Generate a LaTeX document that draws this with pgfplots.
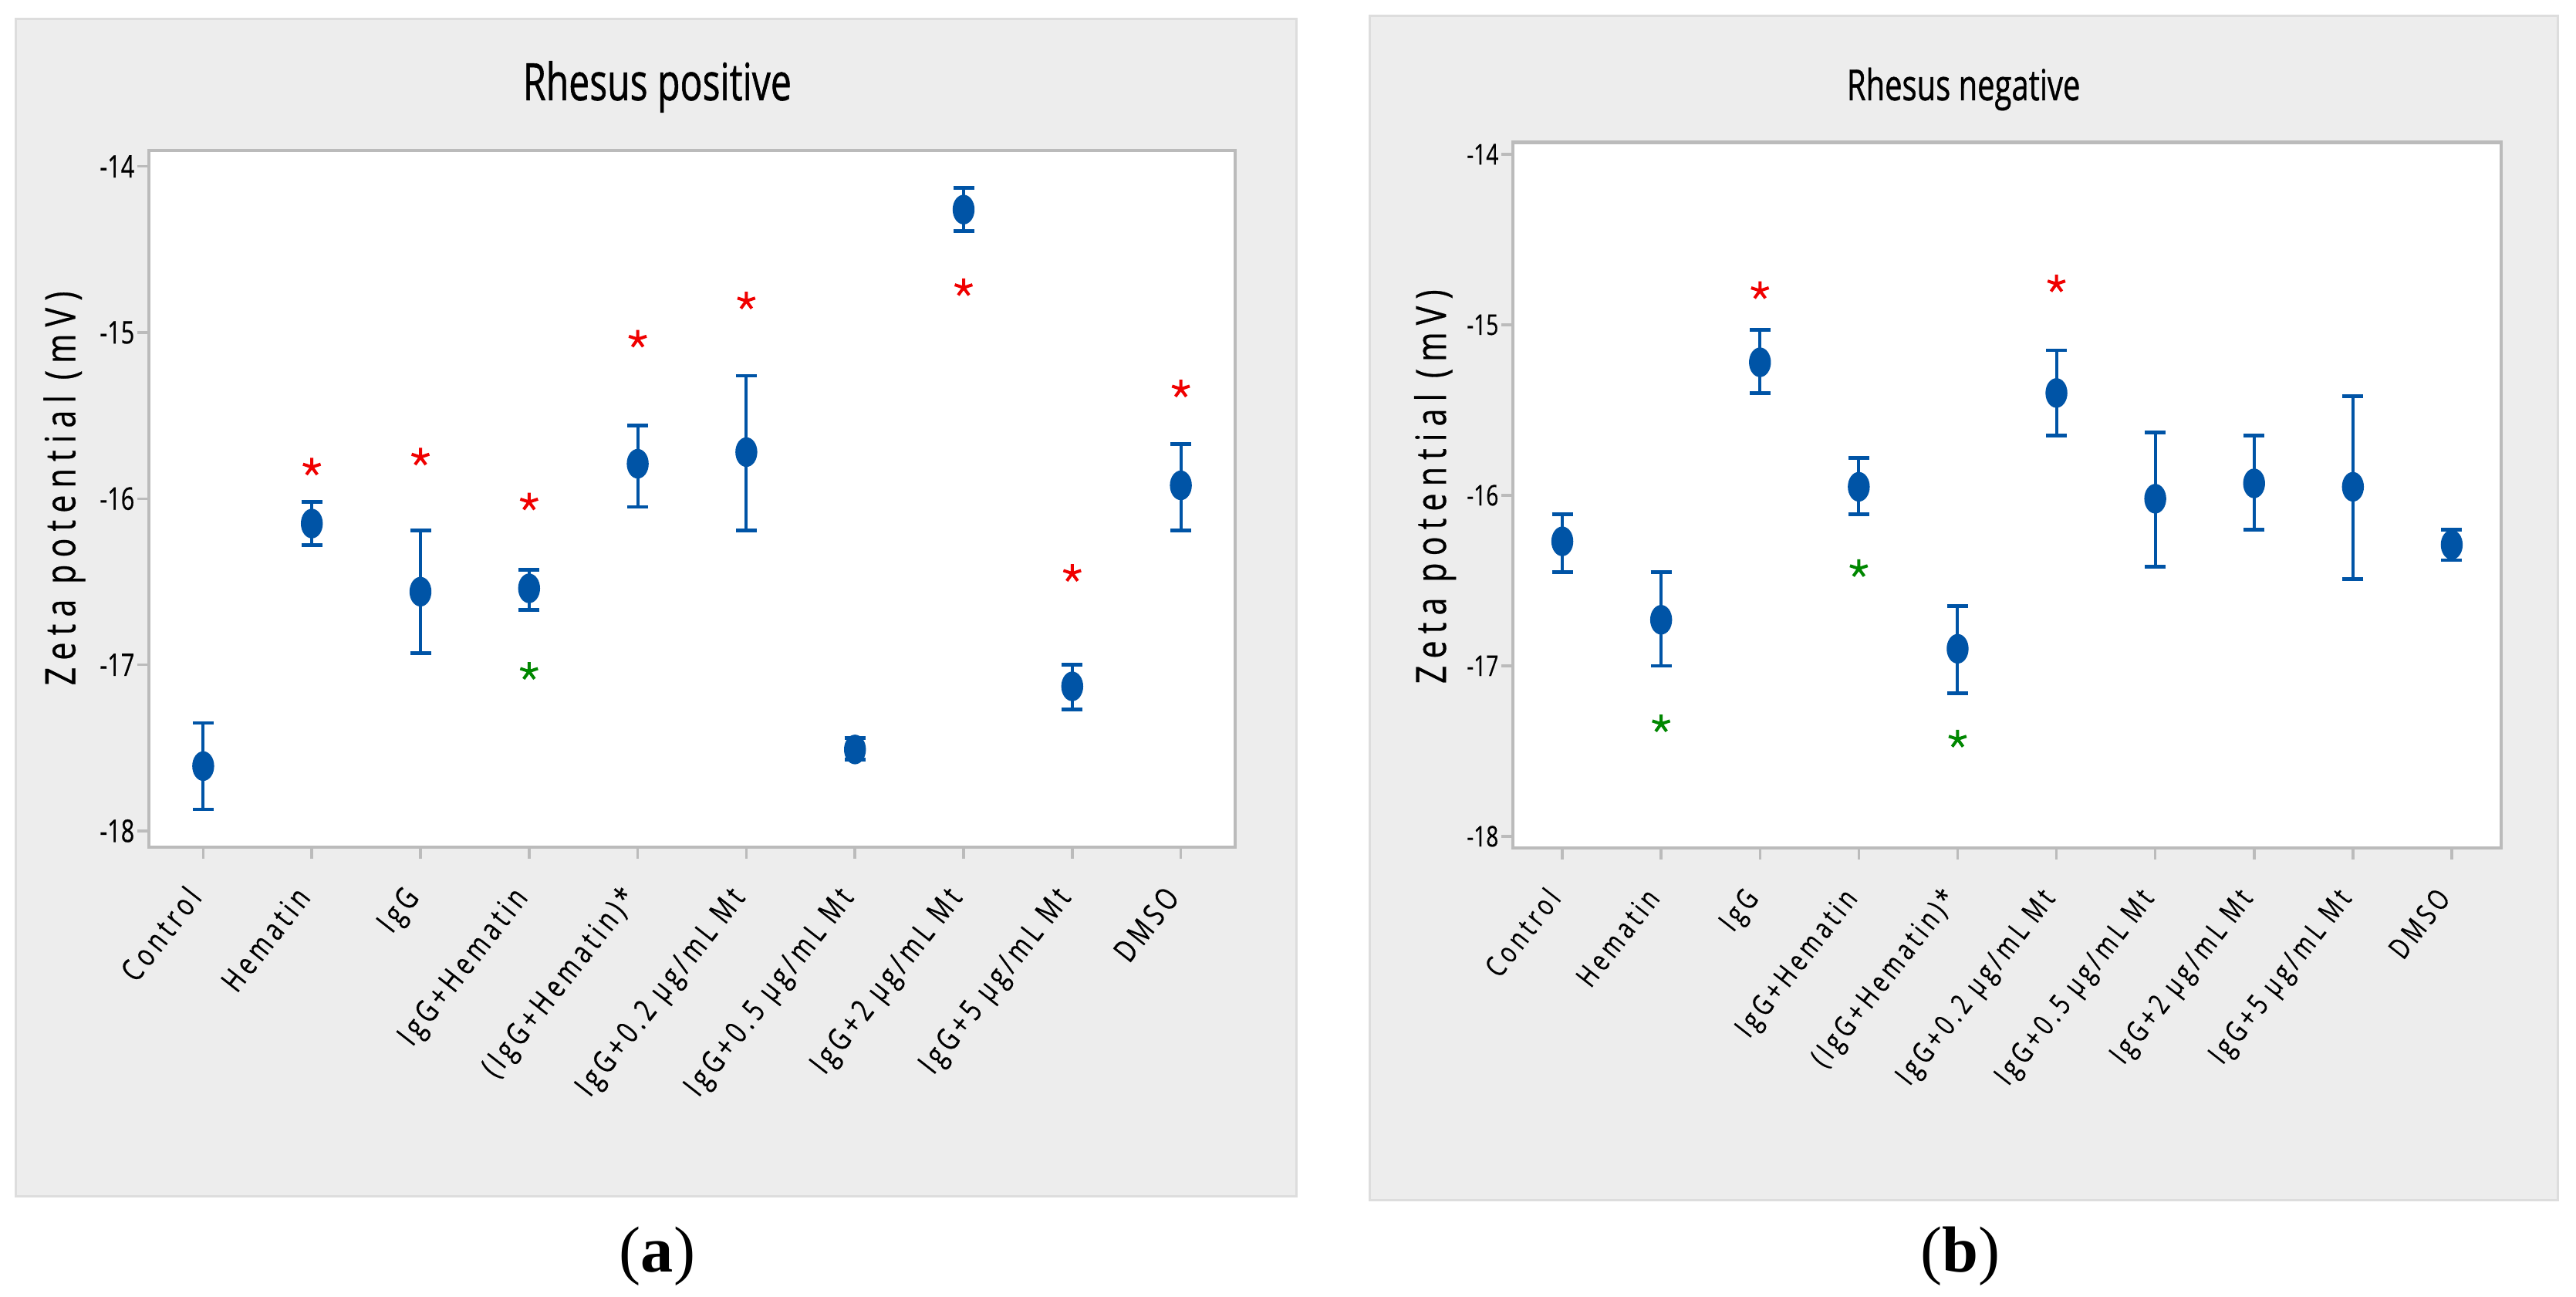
\documentclass[border=0pt]{standalone}
\usepackage{fontspec}
\usepackage{pgfplots}
\usepackage{pgfplotstable}
\pgfplotsset{compat=1.18}
\setmainfont{Open Sans}
\newfontfamily\condfont[FakeStretch=0.76,FakeBold=0.5]{Open Sans}
\newfontfamily\titlefont[FakeStretch=0.72,FakeBold=0.8]{Open Sans}
\newfontfamily\spacedfont[FakeStretch=0.76,FakeBold=0.4,LetterSpace=14]{Open Sans}
\newfontfamily\ylabfont[FakeStretch=0.76,FakeBold=0.5,LetterSpace=17]{Open Sans}
\newfontfamily\capfont{Liberation Serif}

\definecolor{zblue}{RGB}{0,84,166}
\definecolor{zred}{RGB}{240,0,0}
\definecolor{zgreen}{RGB}{0,135,0}
\definecolor{panel}{RGB}{237,237,237}
\definecolor{panelline}{RGB}{221,221,221}
\definecolor{framegray}{RGB}{187,187,187}

% mean, error up (ep), error down (em)
\pgfplotstableread{
x y ep em
0 -17.61 0.26 0.26
1 -16.15 0.13 0.13
2 -16.56 0.37 0.37
3 -16.54 0.11 0.13
4 -15.79 0.23 0.26
5 -15.72 0.46 0.47
6 -17.51 0.07 0.06
7 -14.26 0.13 0.13
8 -17.13 0.13 0.14
9 -15.92 0.25 0.27
}\posdata
\pgfplotstableread{
x y
1 -15.81
2 -15.75
3 -16.02
4 -15.04
5 -14.81
7 -14.73
8 -16.45
9 -15.34
}\posred
\pgfplotstableread{
x y
3 -17.04
}\posgreen

\pgfplotstableread{
x y ep em
0 -16.27 0.16 0.18
1 -16.73 0.28 0.27
2 -15.22 0.19 0.18
3 -15.95 0.17 0.16
4 -16.90 0.25 0.26
5 -15.40 0.25 0.25
6 -16.02 0.39 0.40
7 -15.93 0.28 0.27
8 -15.95 0.53 0.54
9 -16.29 0.09 0.09
}\negdata
\pgfplotstableread{
x y
2 -14.80
5 -14.76
}\negred
\pgfplotstableread{
x y
1 -17.34
3 -16.43
4 -17.43
}\neggreen

\pgfplotsset{
  zeta/.style={
    scale only axis, clip=false,
    xmin=-0.5, xmax=9.5,
    axis background/.style={fill=white},
    axis line style={draw=framegray, line width=0.45mm},
    tick align=outside, tick pos=left,
    major tick length=1.5mm,
    tick style={draw=framegray, line width=0.35mm},
    xtick={0,...,9},
    xticklabels={Control, Hematin, IgG, IgG+Hematin, (IgG+Hematin)*,
      IgG+0.2 µg/mL Mt, IgG+0.5 µg/mL Mt, IgG+2 µg/mL Mt, IgG+5 µg/mL Mt, DMSO},
    xticklabel style={inner sep=0pt, yshift=-5.1mm, rotate=52, anchor=base east},
    ytick={-18,-17,-16,-15,-14},
    yticklabels={-18,-17,-16,-15,-14},
    yticklabel style={inner sep=0pt, anchor=east, xshift=-0.3mm},
    ylabel={Zeta potential (mV)},
    ylabel style={font=\ylabfont\fontsize{15.4}{16}\selectfont, inner sep=0pt, anchor=center},
  },
  means/.style={only marks, mark=*, mark size=1.85mm,
    mark options={xscale=0.73, draw=zblue, fill=zblue},
    error bars/.cd, y dir=both, y explicit,
    error bar style={draw=zblue, line width=0.4mm},
    error mark options={rotate=90, draw=zblue, line width=0.47mm, mark size=1.35mm}},
  stars/.style={only marks, mark=star, mark size=1.2mm, mark options={line width=0.4mm, draw=#1}},
}

\begin{document}
\begin{tikzpicture}
\path[use as bounding box] (0,0) rectangle (333.9mm,168.1mm);
\filldraw[fill=panel, draw=panelline, line width=0.3mm] (2.0mm,13.0mm) rectangle (168.0mm,165.6mm);
\filldraw[fill=panel, draw=panelline, line width=0.3mm] (177.5mm,12.5mm) rectangle (331.5mm,166.0mm);

\begin{axis}[zeta,
  at={(19.3mm,58.3mm)}, anchor=south west,
  width=140.8mm, height=90.3mm,
  ymin=-18.098, ymax=-13.904,
  title={Rhesus positive},
  title style={font=\titlefont\fontsize{19}{20}\selectfont, at={(0.468,1.0487)}, anchor=base},
  xticklabel style={font=\spacedfont\fontsize{11.5}{12}\selectfont},
  yticklabel style={font=\condfont\fontsize{11.5}{12}\selectfont},
  ylabel style={at={(-0.0778,0.515)}},
]
\addplot[means] table[x=x, y=y, y error plus=ep, y error minus=em] {\posdata};
\addplot[stars=zred] table[x=x, y=y] {\posred};
\addplot[stars=zgreen] table[x=x, y=y] {\posgreen};
\end{axis}

\begin{axis}[zeta,
  at={(196.1mm,58.2mm)}, anchor=south west,
  width=128.1mm, height=91.45mm,
  ymin=-18.068, ymax=-13.93,
  title={Rhesus negative},
  title style={font=\titlefont\fontsize{15.8}{17}\selectfont, at={(0.456,1.0366)}, anchor=base},
  xticklabel style={font=\spacedfont\fontsize{10.8}{12}\selectfont},
  yticklabel style={font=\condfont\fontsize{10.5}{12}\selectfont},
  ylabel style={at={(-0.0788,0.512)}},
]
\addplot[means] table[x=x, y=y, y error plus=ep, y error minus=em] {\negdata};
\addplot[stars=zred] table[x=x, y=y] {\negred};
\addplot[stars=zgreen] table[x=x, y=y] {\neggreen};
\end{axis}

\node[font=\capfont\fontsize{24}{28}\selectfont] at (85.2mm,5.3mm) {(\textbf{a})};
\node[font=\capfont\fontsize{24}{28}\selectfont] at (254.1mm,5.3mm) {(\textbf{b})};
\end{tikzpicture}
\end{document}
